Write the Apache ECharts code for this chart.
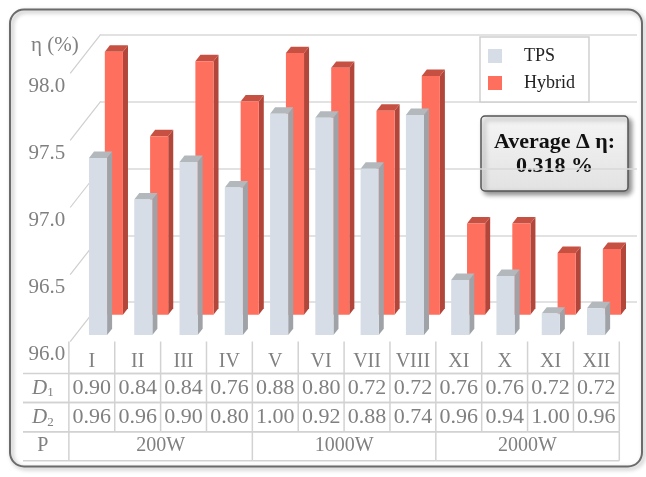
<!DOCTYPE html>
<html>
<head>
<meta charset="utf-8">
<script src="https://cdn.jsdelivr.net/npm/echarts@6/dist/echarts.min.js"></script>
<style>html,body{margin:0;padding:0;background:#fff}#c{width:646px;height:477px}</style>
</head>
<body>
<div id="c"></div>
<script>
// ---- data ----
const categories = ['I','II','III','IV','V','VI','VII','VIII','XI','X','XI','XII'];
const tps    = [97.32, 97.01, 97.29, 97.10, 97.65, 97.62, 97.24, 97.64, 96.41, 96.44, 96.16, 96.20];
const hybrid = [97.96, 97.33, 97.89, 97.59, 97.95, 97.84, 97.52, 97.78, 96.68, 96.68, 96.46, 96.49];
const yTicks = [96.0, 96.5, 97.0, 97.5, 98.0];
const d1 = ['0.90','0.84','0.84','0.76','0.88','0.80','0.72','0.72','0.76','0.76','0.72','0.72'];
const d2 = ['0.96','0.96','0.90','0.80','1.00','0.92','0.88','0.74','0.96','0.94','1.00','0.96'];
const powerGroups = ['200W','1000W','2000W'];
const powerSpans = [4, 4, 4];
const annotationLines = ['Average Δ η:', '0.318 %'];

// ---- style constants ----
const SERIF = '"Liberation Serif", "DejaVu Serif", serif';
const GRAY_TEXT = '#808080';
const LINE = '#d2d2d2';
const DX = 30.5, DY = -39;          // full floor depth (px)
const TPS_DEPTH = 0.17, HYB_DEPTH = 0.69, BAR_DEPTH = 0.165, BAR_W = 0.4;
const TPS_COL = {front:'#d6dde6', side:'#9fa3a8', top:'#b3b8bd'};
const HYB_COL = {front:'#ff6f5e', side:'#b2463a', top:'#c65143'};

function barRenderer(depth, col) {
  return function (params, api) {
    const idx = api.value(0), v = api.value(1);
    const top = api.coord([idx, v]);
    const base = api.coord([idx, yTicks[0]]);
    const w = api.size([1, 0])[0] * BAR_W;
    const ox = DX * depth, oy = DY * depth;
    const x0 = top[0] + ox - w / 2, x1 = x0 + w;
    const yT = top[1] + oy, yB = base[1] + oy;
    const bx = DX * BAR_DEPTH, by = DY * BAR_DEPTH;
    return {type:'group', children:[
      {type:'polygon', shape:{points:[[x1,yT],[x1+bx,yT+by],[x1+bx,yB+by],[x1,yB]]}, style:{fill:col.side}},
      {type:'polygon', shape:{points:[[x0,yT],[x0+bx,yT+by],[x1+bx,yT+by],[x1,yT]]}, style:{fill:col.top}},
      {type:'rect', shape:{x:x0, y:yT, width:w, height:yB-yT}, style:{fill:col.front}}
    ]};
  };
}

function diagRenderer(params, api) {
  const p = api.coord([0, api.value(1)]);
  const x = params.coordSys.x;
  return {type:'line', shape:{x1:x, y1:p[1], x2:x+DX, y2:p[1]+DY}, style:{stroke:'#cfcfcf', lineWidth:1.2}};
}

// table cells: [col, row, text, span]
const tableData = [];
tableData.push([0, 1, 'D1', 1]);
tableData.push([0, 2, 'D2', 1]);
tableData.push([0, 3, 'P', 1]);
categories.forEach((c, i) => tableData.push([i + 1, 0, c, 1]));
d1.forEach((c, i) => tableData.push([i + 1, 1, c, 1]));
d2.forEach((c, i) => tableData.push([i + 1, 2, c, 1]));
let startCol = 1;
powerGroups.forEach((g, i) => { tableData.push([startCol, 3, g, powerSpans[i]]); startCol += powerSpans[i]; });
const lastCol = categories.length;

function tableRenderer(params, api) {
  const col = api.value(0), row = api.value(1), span = api.value(3);
  const text = tableData[params.dataIndex][2];
  const c = api.coord([col, row]);
  const sz = api.size([1, 1]);
  const xl = c[0] - sz[0] / 2, xr = xl + sz[0] * span;
  const yt = c[1] - sz[1] / 2, yb = yt + sz[1];
  const ls = {stroke: LINE, lineWidth: 1.5};
  const ch = [];
  if (row > 0) ch.push({type:'line', shape:{x1:xl, y1:yt, x2:xr, y2:yt}, style:ls});
  if (row > 0 || col > 0) ch.push({type:'line', shape:{x1:xl, y1:yb, x2:xr, y2:yb}, style:ls});
  if (col > 0) ch.push({type:'line', shape:{x1:xl, y1:row === 0 ? yt - 3 : yt, x2:xl, y2:yb}, style:ls});
  if (col + span - 1 === lastCol) ch.push({type:'line', shape:{x1:xr, y1:row === 0 ? yt - 3 : yt, x2:xr, y2:yb}, style:ls});
  let tstyle;
  if (col === 0 && text.charAt(0) === 'D') {
    tstyle = {text:'{i|D}{s|' + text.charAt(1) + '}', rich:{
      i:{fontFamily:SERIF, fontStyle:'italic', fontSize:21, fill:GRAY_TEXT, verticalAlign:'middle'},
      s:{fontFamily:SERIF, fontSize:13, fill:GRAY_TEXT, padding:[10,0,0,0]}}};
  } else {
    const fs = (row === 1 || row === 2) ? 22 : 20;
    tstyle = {text: text, fontFamily:SERIF, fontSize:fs, fill:GRAY_TEXT};
  }
  tstyle.align = 'center'; tstyle.verticalAlign = 'middle';
  ch.push({type:'text', x:(xl + xr) / 2 - (col === 0 ? 3 : 0), y:(yt + yb) / 2 + (row === 0 ? 3 : 0), style:tstyle});
  return {type:'group', children:ch};
}

const chart = echarts.init(document.getElementById('c'), null, {renderer:'canvas'});
chart.setOption({
  animation: false,
  title: {text:'η (%)', left:26, top:28, textStyle:{fontFamily:SERIF, fontWeight:'normal', fontSize:21, lineHeight:24, color:GRAY_TEXT}},
  legend: {
    data:['TPS','Hybrid'], orient:'vertical', left:480, top:37,
    backgroundColor:'#fff', borderColor:'#d0d0d0', borderWidth:1.5, borderRadius:0,
    padding:[10, 14, 10, 8], itemWidth:14, itemHeight:14, itemGap:9, icon:'rect',
    textStyle:{fontFamily:SERIF, fontSize:18, color:'#222', padding:[0,0,0,17]}
  },
  grid: [
    {left:70.2, right:32.5, top:73.3, bottom:135.3},
    {left:100.7, right:9, top:34.8, bottom:174.8},
    {left:23, right:26.7, top:344.5, bottom:16.3}
  ],
  xAxis: [
    {gridIndex:0, type:'category', data:categories, show:false},
    {gridIndex:1, type:'value', min:0, max:1, show:false},
    {gridIndex:2, type:'category', data:[''].concat(categories), show:false}
  ],
  yAxis: [
    {gridIndex:0, type:'value', min:96, max:98, interval:0.5,
     axisLine:{show:false}, axisTick:{show:false}, splitLine:{show:false},
     axisLabel:{formatter:v => v.toFixed(1), margin:5, verticalAlign:'top', lineHeight:26,
                fontFamily:SERIF, fontSize:21, color:GRAY_TEXT}},
    {gridIndex:1, type:'value', min:96, max:98, interval:0.5,
     axisLine:{show:false}, axisTick:{show:false}, axisLabel:{show:false},
     splitLine:{show:true, lineStyle:{color:'#d8d8d8', width:1.6}}},
    {gridIndex:2, type:'category', data:['cat','D1','D2','P'], inverse:true, show:false}
  ],
  series: [
    {type:'custom', name:'diag', xAxisIndex:0, yAxisIndex:0, renderItem:diagRenderer,
     data: yTicks.map(v => [0, v]), z:1, silent:true},
    {type:'custom', name:'Hybrid', xAxisIndex:0, yAxisIndex:0, renderItem:barRenderer(HYB_DEPTH, HYB_COL),
     itemStyle:{color:HYB_COL.front}, color:HYB_COL.front,
     data: hybrid.map((v, i) => [i, v]), z:2},
    {type:'custom', name:'TPS', xAxisIndex:0, yAxisIndex:0, renderItem:barRenderer(TPS_DEPTH, TPS_COL),
     itemStyle:{color:TPS_COL.front}, color:TPS_COL.front,
     data: tps.map((v, i) => [i, v]), z:3},
    {type:'custom', name:'table', xAxisIndex:2, yAxisIndex:2, renderItem:tableRenderer,
     data: tableData.map(d => [d[0], d[1], 0, d[3]]), z:2, silent:true}
  ],
  graphic: [
    {type:'rect', z:-10, shape:{x:10, y:9.5, width:632, height:457, r:14},
     style:{fill:'rgba(0,0,0,0)', stroke:'#6b6b6b', lineWidth:2, shadowBlur:4, shadowColor:'rgba(0,0,0,0.35)', shadowOffsetX:2, shadowOffsetY:2}},
    {type:'group', z:100, children:[
      {type:'rect', shape:{x:481, y:116, width:147, height:75, r:4},
       style:{fill:new echarts.graphic.LinearGradient(0,0,0,1,[{offset:0,color:'#f5f5f5'},{offset:1,color:'#e2e2e2'}]),
              stroke:'#555', lineWidth:1.5, shadowBlur:5, shadowColor:'rgba(0,0,0,0.45)', shadowOffsetX:3, shadowOffsetY:3}},
      {type:'text', x:554.5, y:142.7, style:{text:annotationLines[0], fontFamily:SERIF, fontWeight:'bold', fontSize:22, fill:'#111', align:'center', verticalAlign:'middle'}},
      {type:'text', x:554.5, y:166.7, style:{text:annotationLines[1], fontFamily:SERIF, fontWeight:'bold', fontSize:22, fill:'#111', align:'center', verticalAlign:'middle'}}
    ]}
  ]
});
</script>
</body>
</html>
